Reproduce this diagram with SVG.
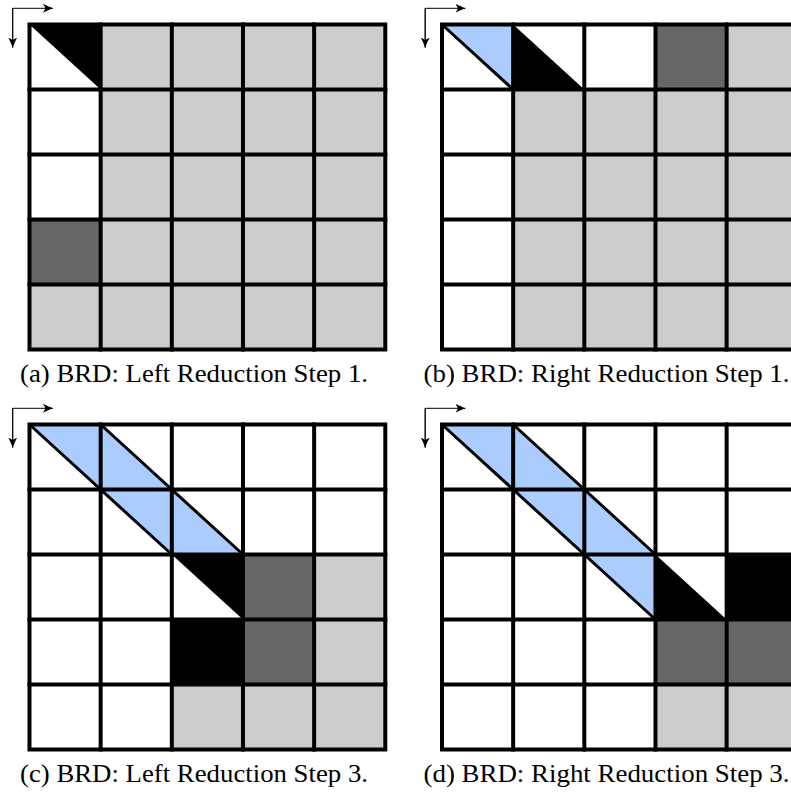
<svg xmlns="http://www.w3.org/2000/svg" width="791" height="794" viewBox="0 0 791 794">
  <style>
    .lt { fill: #cccccc; }
    .dk { fill: #666666; }
    .bk { fill: #000000; }
    .bl { fill: #aaccff; }
    .grid { fill: none; stroke: #000; stroke-width: 4; stroke-linecap: square; }
    .diag { stroke: #000; stroke-width: 3; stroke-linecap: round; }
    .axis { stroke: #000; stroke-width: 1; fill: none; }
    .cap { font-family: "Liberation Serif", "DejaVu Serif", serif; font-size: 24.5px; fill: #000; }
  </style>
  <defs>
    <marker id="tip" viewBox="-10 -5 12 10" refX="0" refY="0" markerWidth="12" markerHeight="10" markerUnits="userSpaceOnUse" orient="auto">
      <path d="M0,0 C-3,-1 -7,-3 -10,-4.5 L-7.5,0 L-10,4.5 C-7,3 -3,1 0,0 Z" fill="#000"/>
    </marker>
    <!-- 5x5 block grid, cell 71.16 x 65 -->
    <g id="grid5">
      <rect class="grid" x="0" y="0" width="355.8" height="325"/>
      <path class="grid" d="M71.16,0V325M142.32,0V325M213.48,0V325M284.64,0V325M0,65H355.8M0,130H355.8M0,195H355.8M0,260H355.8"/>
    </g>
  </defs>

  <!-- (a) left reduction, step 1 -->
  <g id="panel-a" transform="translate(29.5,24.5)">
    <rect class="lt" x="71.16" y="0" width="284.64" height="325"/>
    <rect class="dk" x="0" y="195" width="71.16" height="65"/>
    <rect class="lt" x="0" y="260" width="71.16" height="65"/>
    <polygon class="bk" points="0,0 71.16,0 71.16,65"/>
    <use href="#grid5"/>
  </g>

  <!-- (b) right reduction, step 1 -->
  <g id="panel-b" transform="translate(442,24.5)">
    <rect class="lt" x="71.16" y="65" width="284.64" height="260"/>
    <rect class="dk" x="213.48" y="0" width="71.16" height="65"/>
    <rect class="lt" x="284.64" y="0" width="71.16" height="65"/>
    <polygon class="bl" points="0,0 71.16,0 71.16,65"/>
    <polygon class="bk" points="71.16,0 71.16,65 142.32,65"/>
    <line class="diag" x1="0" y1="0" x2="71.16" y2="65"/>
    <use href="#grid5"/>
  </g>

  <!-- (c) left reduction, step 3 -->
  <g id="panel-c" transform="translate(29.5,424.5)">
    <polygon class="bl" points="0,0 71.16,0 213.48,130 142.32,130"/>
    <polygon class="bk" points="142.32,130 213.48,130 213.48,195"/>
    <rect class="dk" x="213.48" y="130" width="71.16" height="130"/>
    <rect class="lt" x="284.64" y="130" width="71.16" height="130"/>
    <rect class="bk" x="142.32" y="195" width="71.16" height="65"/>
    <rect class="lt" x="142.32" y="260" width="213.48" height="65"/>
    <line class="diag" x1="0" y1="0" x2="142.32" y2="130"/>
    <line class="diag" x1="71.16" y1="0" x2="213.48" y2="130"/>
    <use href="#grid5"/>
  </g>

  <!-- (d) right reduction, step 3 -->
  <g id="panel-d" transform="translate(442,424.5)">
    <polygon class="bl" points="0,0 71.16,0 213.48,130 213.48,195"/>
    <polygon class="bk" points="213.48,130 213.48,195 284.64,195"/>
    <rect class="bk" x="284.64" y="130" width="71.16" height="65"/>
    <rect class="dk" x="213.48" y="195" width="142.32" height="65"/>
    <rect class="lt" x="213.48" y="260" width="142.32" height="65"/>
    <line class="diag" x1="0" y1="0" x2="213.48" y2="195"/>
    <line class="diag" x1="71.16" y1="0" x2="213.48" y2="130"/>
    <use href="#grid5"/>
  </g>

  <!-- orientation arrows (columns to the right, rows downward) -->
  <g id="connectors">
    <path class="axis" d="M12.7,47.5V8.3H53" marker-end="url(#tip)"/>
    <path class="axis" d="M12.7,8.3V47.5" marker-end="url(#tip)"/>
    <path class="axis" d="M425.2,47.5V8.3H465.5" marker-end="url(#tip)"/>
    <path class="axis" d="M425.2,8.3V47.5" marker-end="url(#tip)"/>
    <path class="axis" d="M12.7,447.5V408.3H53" marker-end="url(#tip)"/>
    <path class="axis" d="M12.7,408.3V447.5" marker-end="url(#tip)"/>
    <path class="axis" d="M425.2,447.5V408.3H465.5" marker-end="url(#tip)"/>
    <path class="axis" d="M425.2,408.3V447.5" marker-end="url(#tip)"/>
  </g>

  <g id="captions">
    <text class="cap" x="20" y="382" textLength="348" lengthAdjust="spacingAndGlyphs">(a) BRD: Left Reduction Step 1.</text>
    <text class="cap" x="423.5" y="382" textLength="366" lengthAdjust="spacingAndGlyphs">(b) BRD: Right Reduction Step 1.</text>
    <text class="cap" x="20" y="782" textLength="348" lengthAdjust="spacingAndGlyphs">(c) BRD: Left Reduction Step 3.</text>
    <text class="cap" x="423.5" y="782" textLength="366" lengthAdjust="spacingAndGlyphs">(d) BRD: Right Reduction Step 3.</text>
  </g>
</svg>
